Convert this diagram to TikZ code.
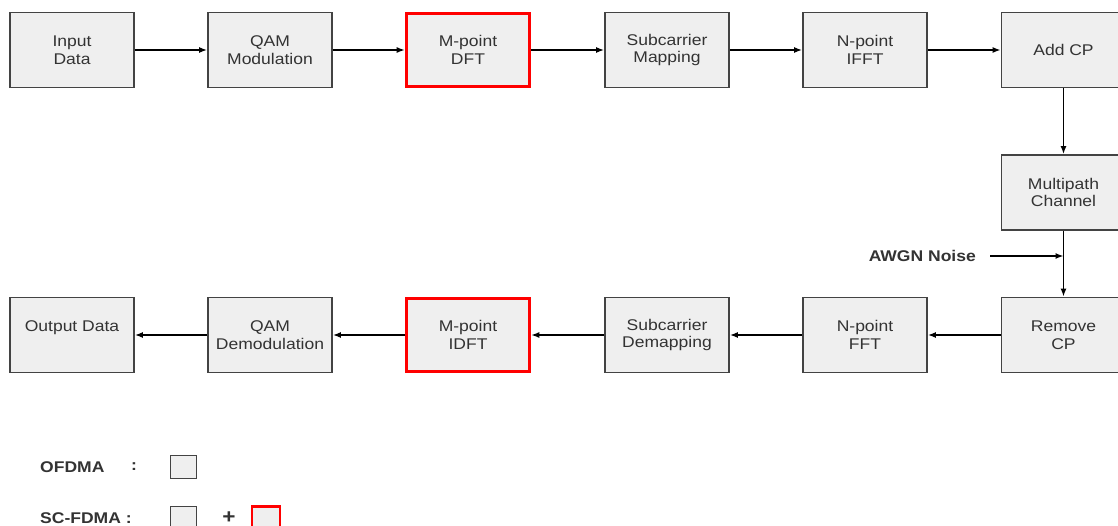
\documentclass[tikz,border=0pt]{standalone}
\usepackage{fontspec}
\setmainfont{Liberation Sans}[FakeStretch=1.13]
\usetikzlibrary{arrows.meta}
\definecolor{boxfill}{HTML}{EFEFEF}
\definecolor{boxline}{HTML}{434343}
\definecolor{txt}{HTML}{333333}
\definecolor{redline}{HTML}{FF0000}
\tikzset{
  blk/.style={draw=boxline, fill=boxfill, line width=1.8pt, minimum width=124pt, minimum height=75pt,
    align=center, inner sep=0pt, text=txt, font=\fontsize{15.5}{17.5}\selectfont},
  redblk/.style={blk, draw=redline, line width=3.6pt, minimum width=123pt, minimum height=73pt},
  conn/.style={draw=black, line width=1.4pt, -{Latex[length=8pt,width=6pt]}},
  lbl/.style={text=txt, font=\fontsize{15.5}{17.5}\selectfont\bfseries, inner sep=0pt},
  legbox/.style={draw=boxline, fill=boxfill, line width=1.8pt, minimum width=26pt, minimum height=23pt, inner sep=0pt},
  legred/.style={legbox, draw=redline, line width=2.4pt, minimum width=28pt}
}
\begin{document}
\begin{tikzpicture}[x=1pt,y=-1pt]
\clip (0,0) rectangle (1118,526);
\fill[white] (0,0) rectangle (1118,526);
% top row
\node[blk] (in) at (72,50) {Input\\Data};
\node[blk] (qam) at (270,50) {QAM\\Modulation};
\node[redblk] (dft) at (468,50) {M-point\\DFT};
\node[blk] (map) at (667,50) {Subcarrier\\Mapping};
\node[blk] (ifft) at (865,50) {N-point\\IFFT};
\node[blk] (acp) at (1063.5,50) {Add CP};
% channel
\node[blk] (ch) at (1063.5,192.5) {Multipath\\Channel};
% bottom row
\node[blk] (rcp) at (1063.5,335) {Remove\\CP};
\node[blk] (fft) at (865,335) {N-point\\FFT};
\node[blk] (dmap) at (667,335) {Subcarrier\\Demapping};
\node[redblk] (idft) at (468,335) {M-point\\IDFT};
\node[blk] (qdm) at (270,335) {QAM\\Demodulation};
\node[blk] (out) at (72,335) {Output Data\\\phantom{X}};
% AWGN
\node[lbl, anchor=east] (awgn) at (976,256) {AWGN Noise};
\coordinate (nstart) at (990,256);
\coordinate (join) at (1063.5,256);
% connectors
\draw[conn] (in) -- (qam);
\draw[conn] (qam) -- (dft);
\draw[conn] (dft) -- (map);
\draw[conn] (map) -- (ifft);
\draw[conn] (ifft) -- (acp);
\draw[conn] (acp) -- (ch);
\draw[conn] (ch) -- (rcp);
\draw[conn] (nstart) -- (join);
\draw[conn] (rcp) -- (fft);
\draw[conn] (fft) -- (dmap);
\draw[conn] (dmap) -- (idft);
\draw[conn] (idft) -- (qdm);
\draw[conn] (qdm) -- (out);
% legend
\node[lbl, anchor=west] (ofdma) at (40,467) {OFDMA};
\node[lbl] (c1) at (134,467) {:};
\node[legbox] (lb1) at (183.5,467) {};
\node[lbl, anchor=west] (scfdma) at (40,518) {SC-FDMA :};
\node[legbox] (lb2) at (183.5,518) {};
\node[lbl, font=\fontsize{20}{22}\selectfont\bfseries] (plus) at (229,518) {+};
\node[legred] (lb3) at (266,518) {};
\end{tikzpicture}
\end{document}
